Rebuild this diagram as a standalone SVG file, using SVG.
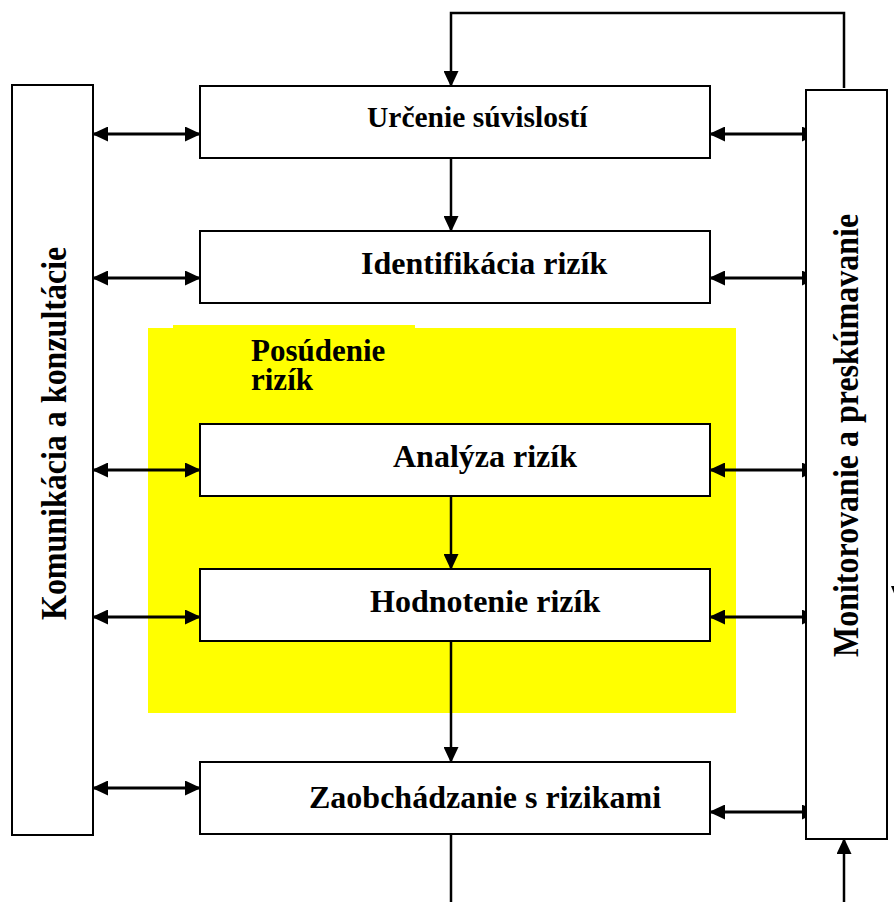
<svg xmlns="http://www.w3.org/2000/svg" width="894" height="902" viewBox="0 0 894 902">
  <style>
    .box { fill: #ffffff; stroke: #000000; stroke-width: 2; }
    .lbl { font-family: "Liberation Serif", "Times New Roman", serif; font-weight: bold; font-size: 32px; fill: #000000; }
    .lbl-s { font-size: 29.5px; }
    .title { font-family: "Liberation Serif", "Times New Roman", serif; font-weight: bold; font-size: 31px; fill: #000000; }
    .vlbl { font-family: "Liberation Serif", "Times New Roman", serif; font-weight: bold; font-size: 32px; fill: #000000; }
    .link { fill: none; stroke: #000000; stroke-width: 2.5; }
    .dbl { fill: none; stroke: #000000; stroke-width: 3; marker-start: url(#ah); marker-end: url(#ah); }
    .one { fill: none; stroke: #000000; stroke-width: 2.5; marker-end: url(#ah); }
  </style>
  <defs>
    <marker id="ah" viewBox="0 0 16 15" refX="15" refY="7.5" markerWidth="16" markerHeight="15" markerUnits="userSpaceOnUse" orient="auto-start-reverse">
      <path d="M0,0 L16,7.5 L0,15 z" fill="#000000"/>
    </marker>
  </defs>

  <rect width="894" height="902" fill="#ffffff"/>

  <!-- risk assessment area -->
  <g id="assessment">
    <rect x="148" y="328" width="588" height="385" fill="#ffff00"/>
    <rect x="173" y="325" width="242" height="4" fill="#ffff00"/>
    <text class="title" x="251" y="361">Posúdenie</text>
    <text class="title" x="251" y="390">rizík</text>
  </g>

  <!-- connectors -->
  <g id="connectors">
    <!-- feedback loop from monitoring back to context -->
    <polyline class="one" points="844,88 844,13 451,13 451,86"/>
    <!-- main flow -->
    <line class="one" x1="451" y1="158" x2="451" y2="231"/>
    <line class="one" x1="451" y1="496" x2="451" y2="569"/>
    <line class="one" x1="451" y1="641" x2="451" y2="762"/>
    <line class="link" x1="451" y1="834" x2="451" y2="902"/>
    <line class="one" x1="844" y1="902" x2="844" y2="839"/>
    <!-- communication links -->
    <line class="dbl" x1="93" y1="134" x2="200" y2="134"/>
    <line class="dbl" x1="93" y1="278" x2="200" y2="278"/>
    <line class="dbl" x1="93" y1="470" x2="200" y2="470"/>
    <line class="dbl" x1="93" y1="617" x2="200" y2="617"/>
    <line class="dbl" x1="93" y1="788" x2="200" y2="788"/>
    <!-- monitoring links -->
    <line class="dbl" x1="710" y1="134" x2="817" y2="134"/>
    <line class="dbl" x1="710" y1="278" x2="817" y2="278"/>
    <line class="dbl" x1="710" y1="470" x2="817" y2="470"/>
    <line class="dbl" x1="710" y1="617" x2="817" y2="617"/>
    <line class="dbl" x1="710" y1="812" x2="817" y2="812"/>
    <polygon points="891,586 901,586 896,598" fill="#000000"/>
  </g>

  <g id="communication">
    <rect class="box" x="12" y="85" width="81" height="750"/>
    <text class="vlbl" transform="translate(66,620) rotate(-90) scale(1,1.1)">Komunikácia a konzultácie</text>
  </g>

  <g id="monitoring">
    <rect class="box" x="806" y="90" width="81" height="749"/>
    <text class="vlbl" transform="translate(858,657) rotate(-90) scale(1,1.1)">Monitorovanie a preskúmavanie</text>
  </g>

  <g id="context">
    <rect class="box" x="200" y="86" width="510" height="72"/>
    <text class="lbl lbl-s" x="367" y="127">Určenie súvislostí</text>
  </g>

  <g id="identification">
    <rect class="box" x="200" y="231" width="510" height="72"/>
    <text class="lbl" x="361" y="274">Identifikácia rizík</text>
  </g>

  <g id="analysis">
    <rect class="box" x="200" y="424" width="510" height="72"/>
    <text class="lbl" x="393" y="467">Analýza rizík</text>
  </g>

  <g id="evaluation">
    <rect class="box" x="200" y="569" width="510" height="72"/>
    <text class="lbl" x="370" y="612">Hodnotenie rizík</text>
  </g>

  <g id="treatment">
    <rect class="box" x="200" y="762" width="510" height="72"/>
    <text class="lbl" x="309" y="808">Zaobchádzanie s rizikami</text>
  </g>
</svg>
